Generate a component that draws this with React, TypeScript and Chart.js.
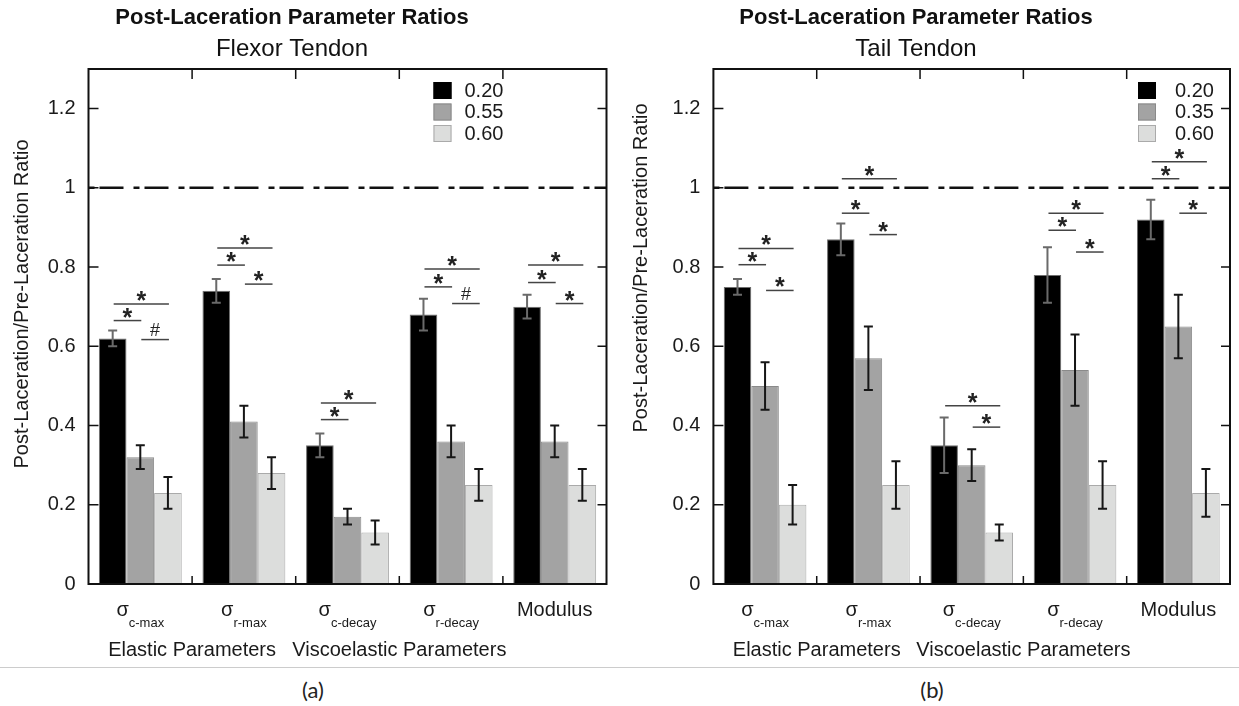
import React, { useEffect, useRef } from 'react';
import { Chart, registerables } from 'chart.js';
Chart.register(...registerables);

const FONT = '"Liberation Sans", Arial, Helvetica, sans-serif';

// ---- data ----
const categories = ['σc-max', 'σr-max', 'σc-decay', 'σr-decay', 'Modulus'];
const catMain = ['σ', 'σ', 'σ', 'σ', 'Modulus'];
const catSub = ['c-max', 'r-max', 'c-decay', 'r-decay', ''];
const groupNames = ['Elastic Parameters', 'Viscoelastic Parameters'];

const flexorLegend = ['0.20', '0.55', '0.60'];
const flexor020 = [0.62, 0.74, 0.35, 0.68, 0.70];
const flexor055 = [0.32, 0.41, 0.17, 0.36, 0.36];
const flexor060 = [0.23, 0.28, 0.13, 0.25, 0.25];
const flexor020Err = [0.02, 0.03, 0.03, 0.04, 0.03];
const flexor055Err = [0.03, 0.04, 0.02, 0.04, 0.04];
const flexor060Err = [0.04, 0.04, 0.03, 0.04, 0.04];

const tailLegend = ['0.20', '0.35', '0.60'];
const tail020 = [0.75, 0.87, 0.35, 0.78, 0.92];
const tail035 = [0.50, 0.57, 0.30, 0.54, 0.65];
const tail060 = [0.20, 0.25, 0.13, 0.25, 0.23];
const tail020Err = [0.02, 0.04, 0.07, 0.07, 0.05];
const tail035Err = [0.06, 0.08, 0.04, 0.09, 0.08];
const tail060Err = [0.05, 0.06, 0.02, 0.06, 0.06];

// significance: [category, fromSeries, toSeries, level, mark]
type Sig = [number, number, number, number, string];
const flexorSig: Sig[] = [
  [0, 0, 1, 0.665, '*'], [0, 0, 2, 0.707, '*'], [0, 1, 2, 0.617, '#'],
  [1, 0, 1, 0.805, '*'], [1, 0, 2, 0.848, '*'], [1, 1, 2, 0.757, '*'],
  [2, 0, 1, 0.415, '*'], [2, 0, 2, 0.457, '*'],
  [3, 0, 1, 0.75, '*'], [3, 0, 2, 0.795, '*'], [3, 1, 2, 0.708, '#'],
  [4, 0, 1, 0.761, '*'], [4, 0, 2, 0.805, '*'], [4, 1, 2, 0.708, '*'],
];
const tailSig: Sig[] = [
  [0, 0, 1, 0.806, '*'], [0, 0, 2, 0.847, '*'], [0, 1, 2, 0.741, '*'],
  [1, 0, 1, 0.936, '*'], [1, 0, 2, 1.023, '*'], [1, 1, 2, 0.882, '*'],
  [2, 0, 2, 0.45, '*'], [2, 1, 2, 0.396, '*'],
  [3, 0, 1, 0.893, '*'], [3, 0, 2, 0.936, '*'], [3, 1, 2, 0.838, '*'],
  [4, 0, 1, 1.023, '*'], [4, 0, 2, 1.066, '*'], [4, 1, 2, 0.936, '*'],
];

const yTicksMax = 1.3;
const yStep = 0.2;
const refLevel = 1;

const fills = ['#000000', '#a3a3a3', '#dcdddc'];
const borders = ['#6e6e6e', '#8a8a8a', '#aaaaaa'];
const errColors = ['#6a6a6a', '#161616', '#161616'];

interface PanelCfg {
  title: string;
  subtitle: string;
  legend: string[];
  values: number[][];
  errors: number[][];
  sig: Sig[];
  width: number;
  height: number;
  yWidth: number;
  padRight: number;
  titleX: number;
  yTitleX: number;
  yTitleY: number;
  legendFromRight: number;
  legendTextGap: number;
}

const panels: PanelCfg[] = [
  {
    title: 'Post-Laceration Parameter Ratios', subtitle: 'Flexor Tendon', legend: flexorLegend,
    values: [flexor020, flexor055, flexor060], errors: [flexor020Err, flexor055Err, flexor060Err], sig: flexorSig,
    width: 620, height: 666, yWidth: 88.5, padRight: 13.5, titleX: 292, yTitleX: 22, yTitleY: 304,
    legendFromRight: 173, legendTextGap: 13,
  },
  {
    title: 'Post-Laceration Parameter Ratios', subtitle: 'Tail Tendon', legend: tailLegend,
    values: [tail020, tail035, tail060], errors: [tail020Err, tail035Err, tail060Err], sig: tailSig,
    width: 619, height: 666, yWidth: 93.4, padRight: 9, titleX: 296, yTitleX: 21.7, yTitleY: 268,
    legendFromRight: 92, legendTextGap: 19,
  },
];

function makePlugin(cfg: PanelCfg) {
  return {
    id: 'panelDecor',
    afterDatasetsDraw(chart: any) {
      const ctx = chart.ctx as CanvasRenderingContext2D;
      const { left, right, top, bottom } = chart.chartArea;
      const ys = chart.scales.y;
      const barX = (d: number, i: number) => chart.getDatasetMeta(d).data[i].x;
      ctx.save();
      // error bars
      cfg.values.forEach((vals, d) => {
        vals.forEach((v, i) => {
          const e = cfg.errors[d][i];
          const x = barX(d, i);
          const y1 = ys.getPixelForValue(v + e);
          const y2 = ys.getPixelForValue(v - e);
          ctx.strokeStyle = errColors[d];
          ctx.lineWidth = 2;
          ctx.beginPath();
          ctx.moveTo(x, y1); ctx.lineTo(x, y2);
          ctx.moveTo(x - 4.5, y1); ctx.lineTo(x + 4.5, y1);
          ctx.moveTo(x - 4.5, y2); ctx.lineTo(x + 4.5, y2);
          ctx.stroke();
        });
      });
      // reference dashed line
      const yr = ys.getPixelForValue(refLevel);
      ctx.strokeStyle = '#111';
      ctx.lineWidth = 2.5;
      ctx.setLineDash([6, 5, 24, 10]);
      ctx.beginPath();
      ctx.moveTo(left, yr); ctx.lineTo(right, yr);
      ctx.stroke();
      ctx.setLineDash([]);
      // significance marks
      cfg.sig.forEach(([c, a, b, lvl, mark]) => {
        const x1 = barX(a, c) + 1;
        const x2 = barX(b, c) + 1;
        const y = ys.getPixelForValue(lvl);
        ctx.strokeStyle = '#444';
        ctx.lineWidth = 1.5;
        ctx.beginPath();
        ctx.moveTo(x1, y); ctx.lineTo(x2, y);
        ctx.stroke();
        ctx.fillStyle = '#222';
        ctx.textAlign = 'center';
        ctx.textBaseline = 'alphabetic';
        if (mark === '*') {
          ctx.font = `bold 25px ${FONT}`;
          ctx.fillText(mark, (x1 + x2) / 2, y + 5);
        } else {
          ctx.font = `18px ${FONT}`;
          ctx.fillText(mark, (x1 + x2) / 2, y - 4);
        }
      });
      // frame
      ctx.strokeStyle = '#111';
      ctx.lineWidth = 2;
      ctx.strokeRect(left, top, right - left, bottom - top);
      // inward ticks
      ctx.lineWidth = 1.5;
      ctx.beginPath();
      ys.ticks.forEach((t: any) => {
        if (t.value <= 0 || t.value >= yTicksMax) return;
        const y = ys.getPixelForValue(t.value);
        ctx.moveTo(left, y); ctx.lineTo(left + 10, y);
        ctx.moveTo(right, y); ctx.lineTo(right - 9, y);
      });
      for (let i = 0; i < categories.length - 1; i++) {
        const xb = (chart.scales.x.getPixelForValue(i) + chart.scales.x.getPixelForValue(i + 1)) / 2;
        ctx.moveTo(xb, top); ctx.lineTo(xb, top + 10);
        ctx.moveTo(xb, bottom); ctx.lineTo(xb, bottom - 8);
      }
      ctx.stroke();
      // legend
      const lx = right - cfg.legendFromRight;
      cfg.legend.forEach((lab, i) => {
        const ly = top + 13 + i * 21.5;
        ctx.fillStyle = fills[i];
        ctx.fillRect(lx, ly, 18, 17);
        ctx.strokeStyle = i === 0 ? '#000' : borders[i];
        ctx.lineWidth = 1;
        ctx.strokeRect(lx + 0.5, ly + 0.5, 17, 16);
        ctx.fillStyle = '#1a1a1a';
        ctx.font = `20px ${FONT}`;
        ctx.textAlign = 'left';
        ctx.textBaseline = 'middle';
        ctx.fillText(lab, lx + 18 + cfg.legendTextGap, ly + 9);
      });
      ctx.restore();
    },
    afterDraw(chart: any) {
      const ctx = chart.ctx as CanvasRenderingContext2D;
      const xs = chart.scales.x;
      ctx.save();
      ctx.fillStyle = '#111';
      ctx.textAlign = 'center';
      ctx.textBaseline = 'middle';
      // titles
      ctx.font = `bold 22px ${FONT}`;
      ctx.fillText(cfg.title, cfg.titleX, 18);
      ctx.font = `24px ${FONT}`;
      ctx.fillText(cfg.subtitle, cfg.titleX, 49);
      // y-axis title
      ctx.save();
      ctx.translate(cfg.yTitleX, cfg.yTitleY);
      ctx.rotate(-Math.PI / 2);
      ctx.font = `20px ${FONT}`;
      ctx.fillStyle = '#1a1a1a';
      ctx.fillText('Post-Laceration/Pre-Laceration Ratio', 0, 0);
      ctx.restore();
      // category labels with subscripts
      ctx.fillStyle = '#1a1a1a';
      catMain.forEach((m, i) => {
        const cx = xs.getPixelForValue(i);
        const sub = catSub[i];
        ctx.font = `20px ${FONT}`;
        const wm = ctx.measureText(m).width;
        ctx.font = `13px ${FONT}`;
        const wsub = sub ? ctx.measureText(sub).width : 0;
        const start = cx - (wm + wsub) / 2;
        ctx.textAlign = 'left';
        ctx.font = `20px ${FONT}`;
        ctx.fillText(m, start, 610);
        if (sub) {
          ctx.font = `13px ${FONT}`;
          ctx.fillText(sub, start + wm, 623);
        }
      });
      // group labels centered at category boundaries
      ctx.textAlign = 'center';
      ctx.font = `20px ${FONT}`;
      const b1 = (xs.getPixelForValue(0) + xs.getPixelForValue(1)) / 2;
      const b2 = (xs.getPixelForValue(2) + xs.getPixelForValue(3)) / 2;
      ctx.fillText(groupNames[0], b1, 650);
      ctx.fillText(groupNames[1], b2, 650);
      ctx.restore();
    },
  };
}

function Panel({ cfg, left }: { cfg: PanelCfg; left: number }) {
  const ref = useRef<HTMLCanvasElement>(null);
  useEffect(() => {
    if (!ref.current) return;
    const chart = new Chart(ref.current, {
      type: 'bar',
      data: {
        labels: categories,
        datasets: cfg.legend.map((lab, i) => ({
          label: lab,
          data: cfg.values[i],
          backgroundColor: fills[i],
          borderColor: borders[i],
          borderWidth: 1,
          categoryPercentage: 0.8,
          barPercentage: 1,
        })),
      },
      options: {
        animation: false,
        responsive: true,
        maintainAspectRatio: false,
        layout: { padding: { left: 0, top: 69, right: cfg.padRight, bottom: 0 } },
        plugins: { legend: { display: false }, title: { display: false }, tooltip: { enabled: false } },
        scales: {
          x: {
            grid: { display: false },
            border: { display: false },
            ticks: { display: false },
            afterFit: (s: any) => { s.height = 82; },
          },
          y: {
            min: 0,
            max: yTicksMax,
            grid: { display: false, drawTicks: false },
            border: { display: false },
            ticks: {
              stepSize: yStep,
              includeBounds: false,
              padding: 13,
              color: '#1a1a1a',
              font: { size: 20, family: FONT },
              callback: (v: any) => (Number(v) >= yTicksMax - 1e-9 ? '' : String(Number(Number(v).toFixed(1)))),
            },
            afterFit: (s: any) => { s.width = cfg.yWidth; },
          },
        },
      },
      plugins: [makePlugin(cfg)],
    } as any);
    return () => chart.destroy();
  }, [cfg]);
  return (
    <div style={{ position: 'absolute', left, top: 0, width: cfg.width, height: cfg.height }}>
      <canvas ref={ref} />
    </div>
  );
}

export default function App() {
  return (
    <div style={{ position: 'absolute', left: 0, top: 0, width: 1239, height: 706, background: '#fff', overflow: 'hidden' }}>
      <Panel cfg={panels[0]} left={0} />
      <Panel cfg={panels[1]} left={620} />
      <div style={{ position: 'absolute', left: 0, top: 667, width: 1239, height: 1, background: '#cccccc' }} />
      <div style={{ position: 'absolute', left: 263, width: 100, top: 676, textAlign: 'center', font: '22px Lato, "Open Sans", sans-serif', color: '#222' }}>(a)</div>
      <div style={{ position: 'absolute', left: 882, width: 100, top: 676, textAlign: 'center', font: '22px Lato, "Open Sans", sans-serif', color: '#222' }}>(b)</div>
    </div>
  );
}
